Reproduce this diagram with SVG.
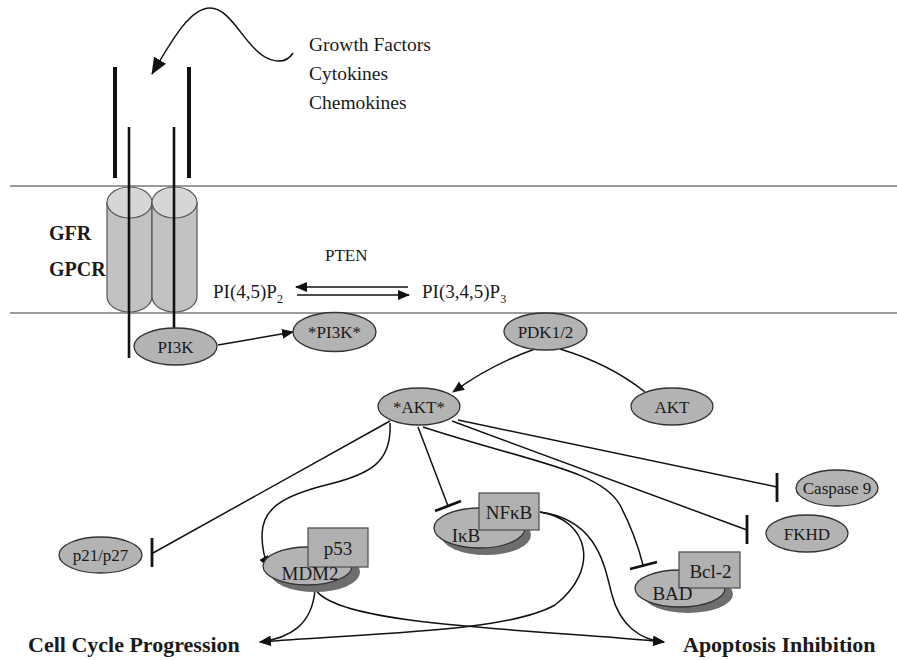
<svg xmlns="http://www.w3.org/2000/svg" width="897" height="660" viewBox="0 0 897 660">
<defs>
<style>
.t{font-family:"Liberation Serif","Times New Roman",serif;fill:#1a1a1a}
.n{font-size:17px;text-anchor:middle}
.c{font-size:19px;text-anchor:middle}
.b{font-weight:bold}
.el{fill:#b3b3b3;stroke:#333;stroke-width:1.3}
.sh{fill:#6e6e6e}
.bx{fill:#b0b0b0;stroke:#555;stroke-width:1.3}
.ln{fill:none;stroke:#111;stroke-width:1.5}
.bar{stroke:#111;stroke-width:2.8}
.mem{stroke:#7a7a7a;stroke-width:1.6}
.cyl{fill:#c2c2c2;stroke:#555;stroke-width:1.2}
.cyt{fill:#d6d6d6;stroke:#555;stroke-width:1.2}
</style>
<marker id="ah" markerUnits="userSpaceOnUse" markerWidth="12" markerHeight="10" refX="11" refY="5" orient="auto"><path d="M0,0 L12,5 L0,10 Z" fill="#111"/></marker>
<marker id="ahb" markerUnits="userSpaceOnUse" markerWidth="17" markerHeight="14" refX="16" refY="7" orient="auto"><path d="M0,0 L17,7 L0,14 Z" fill="#111"/></marker>
</defs>
<rect width="897" height="660" fill="#fff"/>

<g id="membrane">
<line class="mem" x1="10" y1="186" x2="897" y2="186"/>
<line class="mem" x1="10" y1="313" x2="897" y2="313"/>
</g>

<g id="receptor">
<line x1="115" y1="67" x2="115" y2="178" stroke="#111" stroke-width="4"/>
<line x1="189" y1="67" x2="189" y2="178" stroke="#111" stroke-width="4"/>
<path class="cyl" d="M107,202.5 L107,296.5 A22.5,15.5 0 0 0 152,296.5 L152,202.5 Z"/>
<ellipse class="cyt" cx="129.5" cy="202.5" rx="22.5" ry="15.5"/>
<path class="cyl" d="M152,202.5 L152,296.5 A22.5,15.5 0 0 0 197,296.5 L197,202.5 Z"/>
<ellipse class="cyt" cx="174.5" cy="202.5" rx="22.5" ry="15.5"/>
<line x1="129" y1="127" x2="129" y2="358" stroke="#111" stroke-width="2.6"/>
<line x1="174" y1="127" x2="174" y2="329" stroke="#111" stroke-width="2.6"/>
<text class="t b" x="49" y="240" font-size="20">GFR</text>
<text class="t b" x="49" y="276" font-size="20">GPCR</text>
</g>

<g id="ligands">
<text class="t" x="309" y="51" font-size="19.5">Growth Factors</text>
<text class="t" x="309" y="80" font-size="19.5">Cytokines</text>
<text class="t" x="309" y="109" font-size="19.5">Chemokines</text>
</g>

<g id="pip">
<text class="t" x="325" y="261" font-size="17">PTEN</text>
<text class="t" x="213" y="298" font-size="19">PI(4,5)P<tspan font-size="12" dy="5">2</tspan></text>
<text class="t" x="422" y="298" font-size="19">PI(3,4,5)P<tspan font-size="12" dy="5">3</tspan></text>
</g>

<g id="connectors">
<path class="ln" stroke-width="2" d="M293,53 C285,66 268,62 256,50 C240,35 228,8 210,8 C190,8 172,40 152,74" marker-end="url(#ahb)"/>
<line class="ln" x1="408" y1="287" x2="296" y2="287" marker-end="url(#ah)"/>
<line class="ln" x1="297" y1="295" x2="409" y2="295" marker-end="url(#ah)"/>
<line class="ln" x1="218" y1="345" x2="293" y2="332" marker-end="url(#ah)"/>
<path class="ln" d="M535,349 Q492,364 453,392" marker-end="url(#ah)"/>
<path class="ln" d="M560,349 Q610,364 645,392"/>
<line class="ln" x1="390" y1="421" x2="153" y2="553"/>
<line class="bar" x1="152" y1="538" x2="152" y2="567"/>
<path class="ln" d="M390,423 C392,462 370,474 330,484 C280,496 262,510 262,535 C262,550 264,558 269,567" marker-end="url(#ah)"/>
<line class="ln" x1="418" y1="427" x2="448" y2="506"/>
<line class="bar" x1="435" y1="511" x2="461" y2="501"/>
<path class="ln" d="M423,427 C530,462 600,470 620,505 C632,528 638,545 643,565"/>
<line class="bar" x1="630" y1="569" x2="657" y2="562"/>
<line class="ln" x1="452" y1="421" x2="747" y2="530"/>
<line class="bar" x1="747" y1="515" x2="747" y2="544"/>
<line class="ln" x1="458" y1="420" x2="777" y2="487"/>
<line class="bar" x1="777" y1="473" x2="777" y2="502"/>
<path class="ln" d="M315,590 C312,625 290,638 260,642" marker-end="url(#ah)"/>
<path class="ln" d="M316,590 C340,628 560,630 664,642" marker-end="url(#ah)"/>
<path class="ln" d="M540,512 C590,520 600,570 555,605 C510,630 400,632 260,642" marker-end="url(#ah)"/>
<path class="ln" d="M540,512 C600,520 605,570 612,595 C620,625 640,640 664,642" marker-end="url(#ah)"/>
</g>

<g id="PI3K"><ellipse class="el" cx="175.5" cy="346.5" rx="41.5" ry="18.5"/><text class="t n" x="175.5" y="353">PI3K</text></g>
<g id="PI3K-active"><ellipse class="el" cx="334.5" cy="332" rx="41.5" ry="19.5"/><text class="t n" x="334.5" y="338">*PI3K*</text></g>
<g id="PDK12"><ellipse class="el" cx="545.5" cy="331.5" rx="41.5" ry="18.5"/><text class="t n" x="545.5" y="338">PDK1/2</text></g>
<g id="AKT-active"><ellipse class="el" cx="419" cy="406.5" rx="41" ry="18.5"/><text class="t n" x="419" y="413">*AKT*</text></g>
<g id="AKT"><ellipse class="el" cx="672" cy="406.5" rx="41" ry="18.5"/><text class="t n" x="672" y="413">AKT</text></g>
<g id="p21p27"><ellipse class="el" cx="100.5" cy="555" rx="41.5" ry="18"/><text class="t n" x="100.5" y="561">p21/p27</text></g>
<g id="Caspase9"><ellipse class="el" cx="837" cy="488" rx="41" ry="18"/><text class="t n" x="837" y="494">Caspase 9</text></g>
<g id="FKHD"><ellipse class="el" cx="807" cy="533.5" rx="41" ry="18.5"/><text class="t n" x="807" y="540">FKHD</text></g>

<g id="MDM2-p53">
<ellipse class="sh" cx="315" cy="572" rx="45" ry="20"/>
<ellipse class="el" cx="307.5" cy="566" rx="44.5" ry="19"/>
<rect class="bx" x="308" y="528" width="60" height="39"/>
<text class="t c" x="338" y="555">p53</text>
<text class="t c" x="310" y="580">MDM2</text>
</g>
<g id="IkB-NFkB">
<ellipse class="sh" cx="486" cy="535" rx="45" ry="20"/>
<ellipse class="el" cx="479.5" cy="528" rx="45.5" ry="20"/>
<rect class="bx" x="479" y="493" width="60" height="37"/>
<text class="t c" x="509" y="519">NFκB</text>
<text class="t c" x="466" y="542">IκB</text>
</g>
<g id="BAD-Bcl2">
<ellipse class="sh" cx="688" cy="594" rx="45" ry="19"/>
<ellipse class="el" cx="680" cy="588.5" rx="45" ry="18.5"/>
<rect class="bx" x="679" y="552" width="61" height="36"/>
<text class="t c" x="710.5" y="578">Bcl-2</text>
<text class="t c" x="672.5" y="600">BAD</text>
</g>

<g id="outcomes">
<text class="t b" x="28" y="652" font-size="22">Cell Cycle Progression</text>
<text class="t b" x="683" y="652" font-size="22">Apoptosis Inhibition</text>
</g>
</svg>
